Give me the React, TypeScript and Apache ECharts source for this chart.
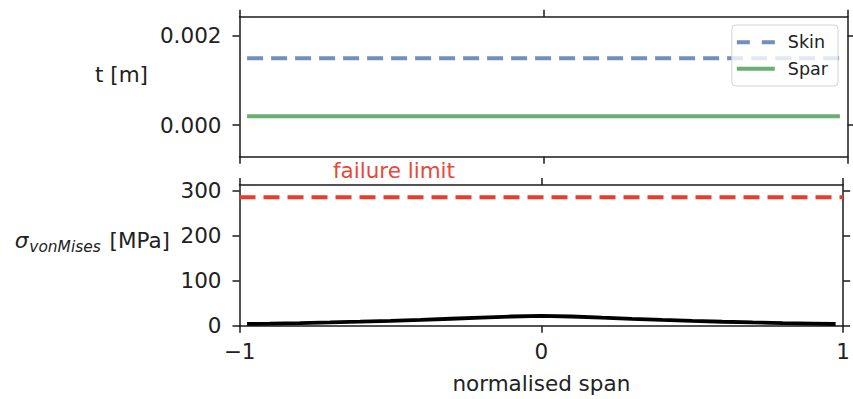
import React, { useEffect, useRef } from "react";
import * as echarts from "echarts";

// normalised span positions (element midpoints)
const spanX = [-0.975, -0.9, -0.8, -0.7, -0.6, -0.5, -0.4, -0.3, -0.2, -0.1, 0.0, 0.1, 0.2, 0.3, 0.4, 0.5, 0.6, 0.7, 0.8, 0.9, 0.975];
// thickness [m]
const skinT = [0.0015, 0.0015, 0.0015, 0.0015, 0.0015, 0.0015, 0.0015, 0.0015, 0.0015, 0.0015, 0.0015, 0.0015, 0.0015, 0.0015, 0.0015, 0.0015, 0.0015, 0.0015, 0.0015, 0.0015, 0.0015];
const sparT = [0.0002, 0.0002, 0.0002, 0.0002, 0.0002, 0.0002, 0.0002, 0.0002, 0.0002, 0.0002, 0.0002, 0.0002, 0.0002, 0.0002, 0.0002, 0.0002, 0.0002, 0.0002, 0.0002, 0.0002, 0.0002];
// von Mises stress [MPa]
const stress = [4, 4.7, 5.8, 7.3, 9, 10.8, 13, 15.5, 18, 20.5, 22, 20.5, 17.8, 15.3, 13, 10.8, 8.8, 7.2, 5.9, 4.8, 3.8];
// failure limit [MPa]
const failX = [-1, 1];
const failY = [286, 286];
// ticks
const tTicks = [0, 0.002];
const sTicks = [0, 100, 200, 300];

const FONT = "DejaVu Sans";
const INK = "#1a1a1a";

export default function App() {
  const ref = useRef<HTMLDivElement>(null);
  useEffect(() => {
    if (!ref.current) return;
    const chart = echarts.init(ref.current, undefined, { renderer: "svg" });
    const axisLine = { show: true, onZero: false, lineStyle: { color: INK, width: 1.5 } };
    const tick = (vals: number[]) => ({ show: true, length: 7, inside: false, customValues: vals, lineStyle: { color: INK, width: 1.5 } });
    const xBase = (grid: number, pos: string, labels: boolean) => ({
      type: "value",
      gridIndex: grid,
      position: pos,
      min: -1,
      max: 1,
      interval: 1,
      axisLine,
      axisTick: { show: true, length: 7, lineStyle: { color: INK, width: 1.5 } },
      splitLine: { show: false },
      axisLabel: labels
        ? {
            show: true,
            margin: 15,
            fontSize: 21.5,
            fontFamily: FONT,
            color: "#222",
            formatter: (v: number) => (v < 0 ? "\u2212" + Math.abs(v) : String(v)),
          }
        : { show: false },
    });
    const yBase = (grid: number, pos: string, min: number, max: number, vals: number[], labels: boolean, fmt?: (v: number) => string) => ({
      type: "value",
      gridIndex: grid,
      position: pos,
      min,
      max,
      axisLine,
      axisTick: tick(vals),
      splitLine: { show: false },
      axisLabel: labels
        ? { show: true, customValues: vals, margin: 18, fontSize: 21.5, fontFamily: FONT, color: "#222", formatter: fmt }
        : { show: false },
    });
    const lineSeries = (name: string, xi: number, xs: number[], ys: number[], color: string, width: number, type: any, z = 2) => ({
      name,
      type: "line",
      xAxisIndex: xi,
      yAxisIndex: xi,
      data: xs.map((x, i) => [x, ys[i]]),
      symbol: "none",
      showSymbol: false,
      lineStyle: { color, width, type },
      itemStyle: { color, borderWidth: 0 },
      z,
    });
    chart.setOption({
      animation: false,
      textStyle: { fontFamily: FONT },
      grid: [
        { left: 239.5, width: 608, top: 16.7, height: 140, containLabel: false },
        { left: 239.5, width: 608, top: 185, height: 140.7, containLabel: false },
      ],
      xAxis: [xBase(0, "bottom", false), xBase(0, "top", false), {
        ...xBase(1, "bottom", true),
        name: "normalised span",
        nameLocation: "middle",
        nameGap: 47,
        nameTextStyle: { fontSize: 21.5, fontFamily: FONT, color: "#222" },
      }, xBase(1, "top", false)],
      yAxis: [
        yBase(0, "left", -0.00071, 0.00243, tTicks, true, (v: number) => v.toFixed(3)),
        yBase(0, "right", -0.00071, 0.00243, tTicks, false),
        yBase(1, "left", 0, 313, sTicks, true, (v: number) => String(v)),
        yBase(1, "right", 0, 313, sTicks, false),
      ],
      legend: {
        data: [
          { name: "Skin", icon: "path://M0 0H13V4H0Z M25 0H38V4H25Z" },
          { name: "Spar", icon: "path://M0 0H38V4H0Z" },
        ],
        orient: "vertical",
        right: 15,
        top: 25,
        itemWidth: 38,
        itemHeight: 4,
        itemGap: 8.5,
        padding: [8.25, 10, 8.25, 5],
        backgroundColor: "rgba(255,255,255,0.8)",
        borderColor: "#d4d4d4",
        borderWidth: 1,
        borderRadius: 4,
        textStyle: { fontSize: 17.5, fontFamily: FONT, color: "#222", padding: [0, 0, 0, 8] },
      },
      series: [
        lineSeries("Skin", 0, spanX, skinT, "#708ec0", 4, [16, 8]),
        lineSeries("Spar", 0, spanX, sparT, "#6aae72", 4, "solid"),
        lineSeries("failure limit", 2, failX, failY, "#ee3a2a", 4, [16, 8]),
        lineSeries("stress", 2, spanX, stress, "#000000", 3.8, "solid", 3),
      ],
      graphic: [
        {
          type: "text",
          x: 148,
          y: 74.3,
          style: { text: "t [m]", fontSize: 21.5, fontFamily: FONT, fill: "#222", align: "right", verticalAlign: "middle" },
        },
        {
          type: "text",
          x: 170,
          y: 240,
          style: {
            text: "{s|σ}{sub|vonMises}{m| [MPa]}",
            align: "right",
            verticalAlign: "middle",
            fill: "#222",
            rich: {
              s: { fontSize: 21.5, fontFamily: FONT, fontStyle: "italic", lineHeight: 29, fill: "#222", padding: [0, 1, 0, 0] },
              sub: { fontSize: 15.4, fontFamily: FONT, fontStyle: "italic", lineHeight: 15, padding: [14, 0, 0, 0], fill: "#222" },
              m: { fontSize: 21.5, fontFamily: FONT, lineHeight: 29, fill: "#222", padding: [0, 0, 0, 2] },
            },
          },
        },
        {
          type: "text",
          x: 394,
          y: 170.6,
          style: { text: "failure limit", fontSize: 21.5, fontFamily: FONT, fill: "#e8473a", align: "center", verticalAlign: "middle" },
        },
      ],
    });
    return () => chart.dispose();
  }, []);
  return <div ref={ref} style={{ width: 853, height: 399, position: "absolute", left: 0, top: 0, background: "#fff" }} />;
}
